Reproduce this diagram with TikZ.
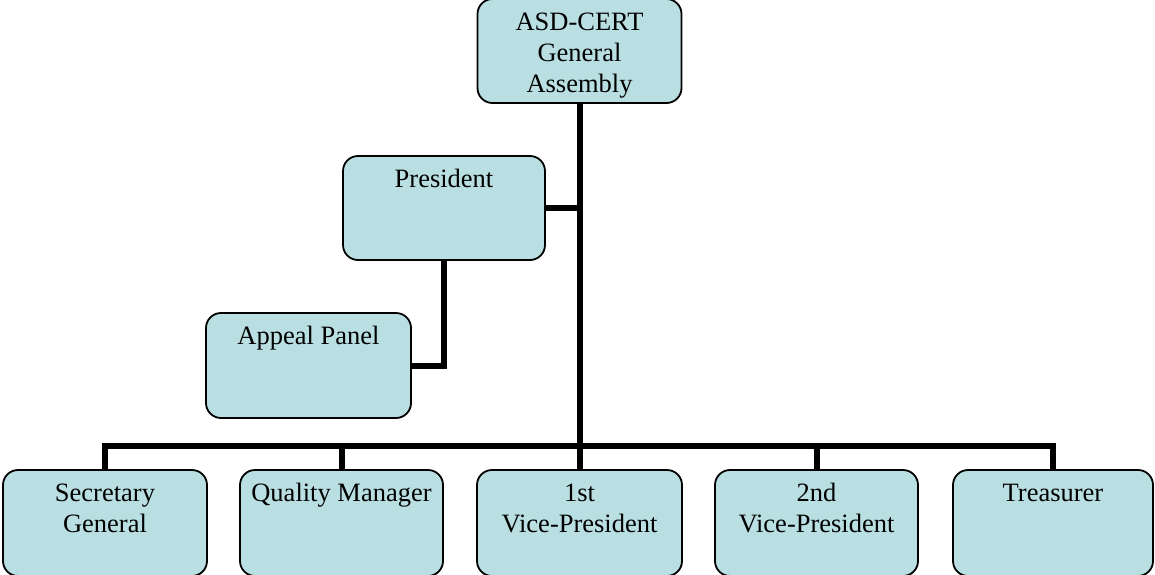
\documentclass[tikz,border=0pt]{standalone}
\usepackage{fontspec}
\setmainfont{Liberation Serif}
\definecolor{boxfill}{RGB}{185,223,226}
\begin{document}
\begin{tikzpicture}[x=1pt,y=-1pt,
  box/.style={draw=black,line width=1.8pt,fill=boxfill,rounded corners=15pt,
    minimum width=204pt,minimum height=104pt,inner sep=0pt},
  lbl/.style={anchor=north,inner sep=0pt,align=center,
    font=\fontsize{26.5}{31}\selectfont},
  conn/.style={line width=6pt,black}]
\useasboundingbox (0,0) rectangle (1155,574);
% boxes
\node[box] (ga) at (579.5,51) {};
\node[box,minimum width=202pt] (pres) at (444,208) {};
\node[box,minimum width=205pt,minimum height=105pt] (appeal) at (308.5,365.5) {};
\node[box,minimum height=106pt] (sec) at (105,523) {};
\node[box,minimum width=203pt,minimum height=106pt] (qm) at (341.5,523) {};
\node[box,minimum width=205pt,minimum height=106pt] (vp1) at (579.5,523) {};
\node[box,minimum width=203pt,minimum height=106pt] (vp2) at (816.5,523) {};
\node[box,minimum width=200pt,minimum height=106pt] (tr) at (1053,523) {};
% texts
\node[lbl] (gaT) at ([yshift=-10pt]ga.north) {\strut ASD-CERT\\General\\Assembly};
\node[lbl] (presT) at ([yshift=-10pt]pres.north) {\strut President};
\node[lbl] (appealT) at ([yshift=-10pt]appeal.north) {\strut Appeal Panel};
\node[lbl] (secT) at ([yshift=-10pt]sec.north) {\strut Secretary\\General};
\node[lbl] (qmT) at ([yshift=-10pt]qm.north) {\strut Quality Manager};
\node[lbl] (vp1T) at ([yshift=-10pt]vp1.north) {\strut 1st\\Vice-President};
\node[lbl] (vp2T) at ([yshift=-10pt]vp2.north) {\strut 2nd\\Vice-President};
\node[lbl] (trT) at ([yshift=-10pt]tr.north) {\strut Treasurer};
% connectors
\coordinate (bus) at (579.5,446);
\draw[conn] (ga.south) -- (vp1.north);
\draw[conn] (pres.east) -- (ga.south |- pres.east);
\draw[conn] (pres.south) |- (appeal.east);
\draw[conn] (sec.north) |- (bus) -| (tr.north);
\draw[conn] (qm.north) -- (qm.north |- bus);
\draw[conn] (vp2.north) -- (vp2.north |- bus);
\end{tikzpicture}
\end{document}
